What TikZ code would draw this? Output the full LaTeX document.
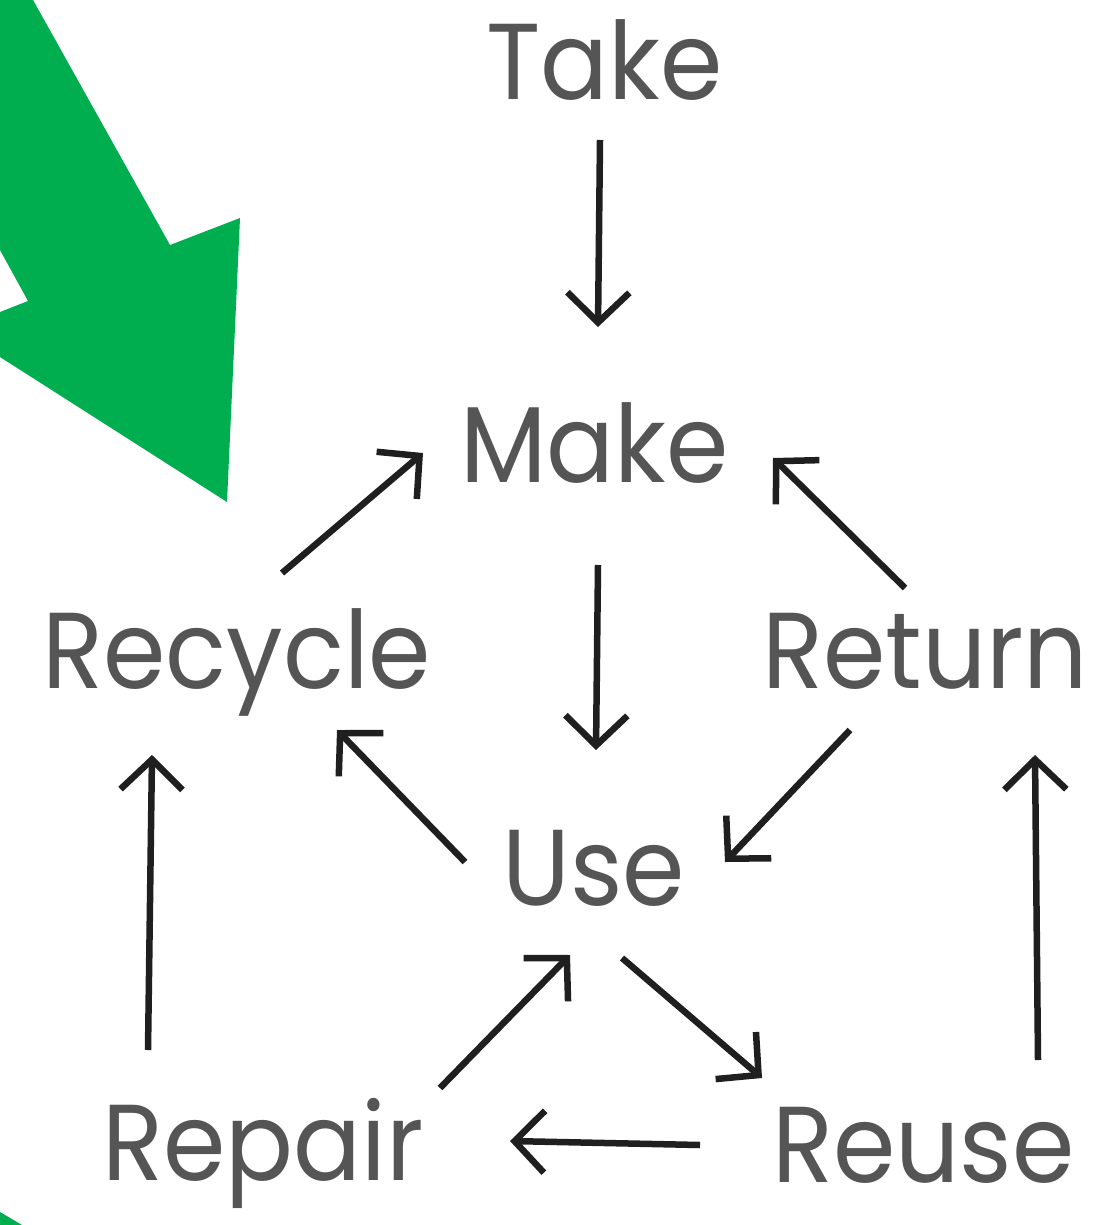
\documentclass[tikz,border=0pt]{standalone}
\usepackage{fontspec}
\setmainfont{Poppins}[FakeStretch=0.93]
\usetikzlibrary{arrows.meta}
\definecolor{arrowgreen}{HTML}{00AE50}
\definecolor{textgray}{HTML}{555555}
\begin{document}
\begin{tikzpicture}[x=1pt,y=-1pt,
  lbl/.style={anchor=base west,inner sep=0pt,text=textgray,font=\fontsize{108}{110}\selectfont},
  conn/.style={line width=6.5pt,draw=black!88,-{Straight Barb[length=30pt,width=62pt,line width=6.5pt]}}]
\useasboundingbox (0,0) rectangle (1101,1225);
\fill[white] (0,0) rectangle (1101,1225);
% green arrow
\fill[arrowgreen] (0,0) -- (33,0) -- (170,245) -- (240,218) -- (227,502) -- (0,357) -- (0,312) -- (28,301) -- (0,250) -- cycle;
\fill[arrowgreen] (0,1212) -- (22,1225) -- (0,1225) -- cycle;
% labels
\node[lbl] (take) at (486,100) {Take};
\node[lbl] (make) at (460,482) {Make};
\node[lbl] (recycle) at (42,688) {Recycle};
\node[lbl] (return) at (762,688) {Return};
\node[lbl] (use) at (502,905) {Use};
\node[lbl] (repair) at (102,1180) {Repair};
\node[lbl] (reuse) at (772,1182) {Reuse};
% connector endpoints
\coordinate (tm1) at (600,140); \coordinate (tm2) at (598,327);
\coordinate (mu1) at (598,565); \coordinate (mu2) at (596,750);
\coordinate (rm1) at (282,573); \coordinate (rm2) at (423,453);
\coordinate (tn1) at (905,588); \coordinate (tn2) at (773,458);
\coordinate (ur1) at (465,862); \coordinate (ur2) at (337,730);
\coordinate (nu1) at (850,730); \coordinate (nu2) at (725,862);
\coordinate (pu1) at (440,1088); \coordinate (pu2) at (570,955);
\coordinate (us1) at (622,958); \coordinate (us2) at (762,1078);
\coordinate (sp1) at (700,1145); \coordinate (sp2) at (510,1141);
\coordinate (pr1) at (148,1050); \coordinate (pr2) at (152,755);
\coordinate (sn1) at (1038,1060); \coordinate (sn2) at (1035,755);
\draw[conn] (tm1) -- (tm2);
\draw[conn] (mu1) -- (mu2);
\draw[conn] (rm1) -- (rm2);
\draw[conn] (tn1) -- (tn2);
\draw[conn] (ur1) -- (ur2);
\draw[conn] (nu1) -- (nu2);
\draw[conn] (pu1) -- (pu2);
\draw[conn] (us1) -- (us2);
\draw[conn] (sp1) -- (sp2);
\draw[conn] (pr1) -- (pr2);
\draw[conn] (sn1) -- (sn2);
\end{tikzpicture}
\end{document}
